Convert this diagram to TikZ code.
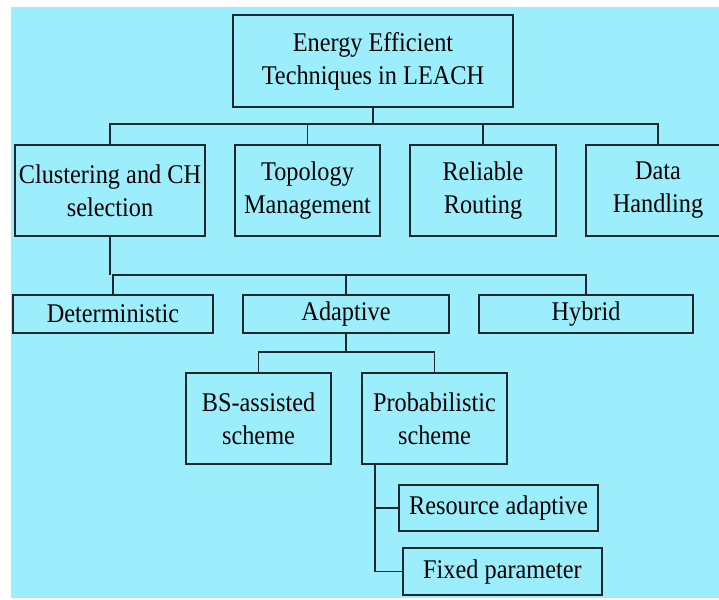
\documentclass[tikz,border=0pt]{standalone}
\usepackage{fontspec}
\setmainfont[FakeStretch=0.9]{Liberation Serif}
\usetikzlibrary{positioning}
\definecolor{skyfill}{RGB}{157,238,252}
\definecolor{inkline}{RGB}{28,40,44}

\begin{document}
\begin{tikzpicture}[x=1pt,y=-1pt,
  box/.style={draw=inkline,line width=2.4pt,align=center,inner sep=0pt,
    font=\fontsize{27}{33}\selectfont},
  link/.style={draw=inkline,line width=1.5pt}]
\useasboundingbox (0,0) rectangle (719,599);
\clip (0,0) rectangle (719,599);
\fill[skyfill] (11,7) rectangle (719,598);
% root
\node[box,minimum width=280pt,minimum height=92pt] (root) at (373,61) {Energy Efficient\\Techniques in LEACH};
% first level
\foreach \n/\x/\w/\t in {clus/110/190/{Clustering and CH\\selection},topo/307.5/145/{Topology\\Management},
    rel/483/146/{Reliable\\Routing},data/658/144/{Data\\Handling}}
  \node[box,minimum width=\w pt,minimum height=91pt] (\n) at (\x,190.5) {\t};
% second level
\foreach \n/\x/\w/\t in {det/113/200/Deterministic,adap/346/206/Adaptive,hyb/586/214/Hybrid}
  \node[box,minimum width=\w pt,minimum height=38pt] (\n) at (\x,314) {\t};
% schemes
\node[box,minimum width=145pt,minimum height=91pt] (bs) at (258.5,418.5) {BS-assisted\\scheme};
\node[box,minimum width=145pt,minimum height=91pt] (prob) at (434.5,418.5) {Probabilistic\\scheme};
\node[box,minimum width=199pt,minimum height=46pt] (res) at (498.5,508) {Resource adaptive};
\node[box,minimum width=199pt,minimum height=47pt] (fix) at (502.5,571.5) {Fixed parameter};
% connectors
\path (clus.north) ++(0,-20) coordinate (b1);
\draw[link] (clus.north) -- (b1) -| (data.north);
\foreach \n in {root.south,topo.north,rel.north}
  \draw[link] (\n) -- (\n |- b1);
\path (det.north) ++(0,-19) coordinate (b2);
\draw[link] (det.north) -- (b2) -| (hyb.north);
\draw[link] (clus.south) -- (clus.south |- b2);
\draw[link] (adap.north) -- (adap.north |- b2);
\path (bs.north) ++(0,-20) coordinate (b3);
\draw[link] (bs.north) -- (b3) -| (prob.north);
\draw[link] (adap.south) -- (adap.south |- b3);
\path (prob.south west) ++(14,0) coordinate (pv);
\draw[link] (pv) |- (fix.west);
\draw[link] (pv |- res.west) -- (res.west);
\end{tikzpicture}
\end{document}
